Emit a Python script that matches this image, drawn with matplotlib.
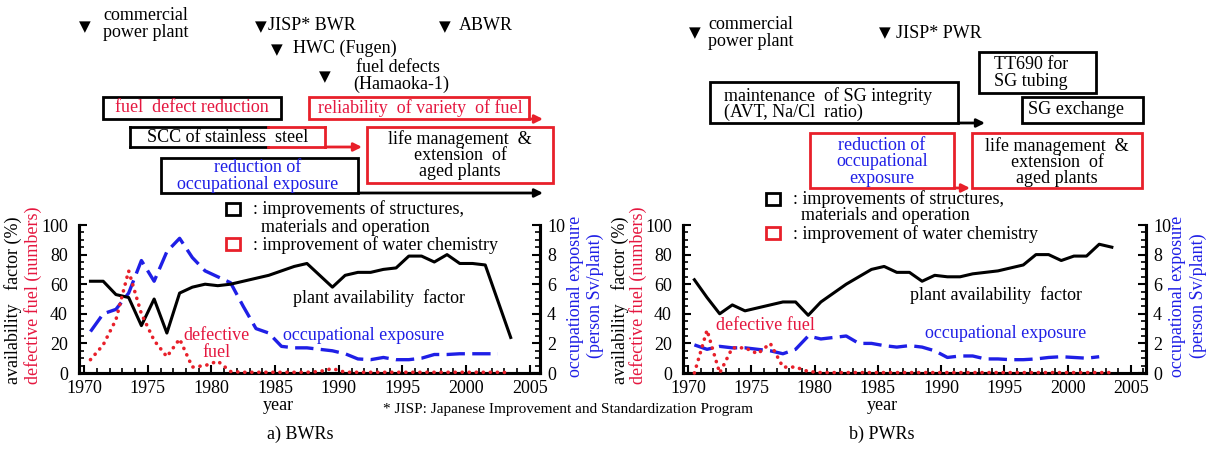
import numpy as np
import matplotlib
matplotlib.use("Agg")
import matplotlib.pyplot as plt
from matplotlib.patches import Rectangle, FancyArrowPatch
from matplotlib.lines import Line2D
from matplotlib.ticker import MultipleLocator

plt.rcParams['font.family'] = ['Liberation Serif', 'DejaVu Sans']

RED = '#e8202a'
RED_TXT = '#e5173f'
BLUE = '#1f1fe6'

# ---- data (fiscal years) ----
bwr_avail_years = list(range(1970, 2002)) + [2003]
bwr_avail = [62, 62, 53, 51, 32, 50, 27, 54, 58, 60,
             59, 60, 62, 64, 66, 69, 72, 74, 66, 58,
             66, 68, 68, 70, 71, 79, 79, 75, 80, 74,
             74, 73, 24]
bwr_fuel_years = list(range(1970, 2004))
bwr_fuel = [9, 19, 36, 69, 40, 22, 11, 23, 4, 5,
            8, 1, 0.5, 0.5, 0.5, 0.5, 0.5, 0.5, 1, 3,
            0.5, 0.5, 0.5, 0.5, 0.5, 0.5, 0.5, 0.5, 0.5, 0.5,
            0.5, 0.5, 0.5, 0.3]
bwr_expo_years = list(range(1970, 2003))
bwr_expo = [2.8, 4.0, 4.3, 5.4, 7.6, 6.2, 8.2, 9.1, 7.8, 6.9,
            6.5, 6.1, 4.5, 3.0, 2.7, 1.8, 1.7, 1.7, 1.6, 1.5,
            1.3, 0.95, 0.9, 1.05, 0.9, 0.9, 1.0, 1.25, 1.25, 1.3,
            1.3, 1.3, 1.3]

pwr_avail_years = list(range(1970, 2004))
pwr_avail = [63, 51, 40, 46, 42, 44, 46, 48, 48, 39,
             48, 54, 60, 65, 70, 72, 68, 68, 62, 66,
             65, 65, 67, 68, 69, 71, 73, 80, 80, 76,
             79, 79, 87, 85]
pwr_fuel_years = list(range(1970, 2004))
pwr_fuel = [0, 29, 0, 17, 17, 13, 20, 4, 4, 1,
            0.3, 0.3, 0.3, 0.3, 0.3, 0.3, 0.3, 0.3, 0.3, 0.3,
            0.3, 0.3, 0.3, 0.3, 0.3, 0.3, 0.3, 0.3, 0.3, 0.3,
            0.3, 0.3, 0.3, 0.3]
pwr_expo_years = list(range(1970, 2003))
pwr_expo = [1.9, 1.6, 1.8, 1.7, 1.7, 1.6, 1.5, 1.3, 1.6, 2.5,
            2.3, 2.4, 2.5, 2.0, 2.0, 1.85, 1.75, 1.85, 1.75, 1.5,
            1.05, 1.15, 1.15, 0.95, 0.95, 0.9, 0.9, 0.95, 1.05, 1.1,
            1.05, 1.0, 1.1]

year_ticks = [1970, 1975, 1980, 1985, 1990, 1995, 2000, 2005]

W, H = 1207, 449
fig = plt.figure(figsize=(W / 100, H / 100), dpi=100)


def P(x, y):
    return (x / W, 1 - y / H)


def txt(x, y, s, **kw):
    kw.setdefault('fontsize', 13)
    kw.setdefault('linespacing', 0.95)
    fig.text(*P(x, y), s, **kw)


def box(x0, y0, x1, y1, color):
    fig.add_artist(Rectangle(P(x0, y1), (x1 - x0) / W, (y1 - y0) / H,
                             transform=fig.transFigure, fill=False,
                             edgecolor=color, lw=2))


def seg(x0, y0, x1, y1, color):
    fig.add_artist(Line2D([x0 / W, x1 / W], [1 - y0 / H, 1 - y1 / H],
                          transform=fig.transFigure, color=color, lw=2))


def arrow(x0, y, x1, color):
    fig.add_artist(FancyArrowPatch(P(x0, y), P(x1, y), transform=fig.transFigure,
                                   arrowstyle='-|>', mutation_scale=12,
                                   color=color, lw=2, shrinkA=0, shrinkB=0))


def tri(x, y):
    fig.text(*P(x, y), '\u25bc', ha='center', va='center', fontsize=11,
             family=['DejaVu Sans'])


def panel(rect, xlim, avail_y, avail, fuel_y, fuel, expo_y, expo):
    ax = fig.add_axes(rect)
    ax2 = ax.twinx()
    off = 0.5
    ax.plot(np.array(avail_y) + off, avail, color='black', lw=2.2, zorder=3)
    ax.plot(np.array(fuel_y) + off, fuel, color=RED, lw=2.6,
            linestyle=(0, (0.05, 1.9)), dash_capstyle='round', zorder=4, clip_on=False)
    ax2.plot(np.array(expo_y) + off, expo, color=BLUE, lw=2.4,
             linestyle=(0, (5.5, 2.2)), zorder=3)
    ax.set_xlim(*xlim)
    ax.set_ylim(0, 100)
    ax2.set_ylim(0, 10)
    ax.set_xticks(year_ticks)
    ax.xaxis.set_minor_locator(MultipleLocator(1))
    ax.yaxis.set_major_locator(MultipleLocator(20))
    ax.yaxis.set_minor_locator(MultipleLocator(5))
    ax2.yaxis.set_major_locator(MultipleLocator(2))
    ax2.yaxis.set_minor_locator(MultipleLocator(0.5))
    for a in (ax, ax2):
        a.spines['top'].set_visible(False)
        for s in a.spines.values():
            s.set_linewidth(2.2)
        a.tick_params(which='major', direction='in', length=6, width=1.5,
                      labelsize=13, pad=5)
        a.tick_params(which='minor', direction='in', length=3.5, width=1.2)
    ax.tick_params(axis='y', pad=8)
    ax.set_zorder(ax2.get_zorder() + 1)
    ax.patch.set_visible(False)
    return ax, ax2


# ---- left panel: BWRs ----
panel([79 / W, 76 / H, 461 / W, 148 / H], (1969.6, 2005.8),
      bwr_avail_years, bwr_avail, bwr_fuel_years, bwr_fuel,
      bwr_expo_years, bwr_expo)
# ---- right panel: PWRs ----
panel([683 / W, 76 / H, 463 / W, 148 / H], (1969.6, 2006.2),
      pwr_avail_years, pwr_avail, pwr_fuel_years, pwr_fuel,
      pwr_expo_years, pwr_expo)

# axis labels
for xb, xr, xo1, xo2 in [(13, 33, 576, 595), (620, 638, 1178, 1198)]:
    txt(xb, 300, 'availability   factor (%)', rotation=90, ha='center', va='center')
    txt(xr, 295, 'defective fuel (numbers)', rotation=90, ha='center', va='center', color=RED_TXT)
    txt(xo1, 296, 'occupational exposure', rotation=90, ha='center', va='center', color=BLUE)
    txt(xo2, 296, '(person Sv/plant)', rotation=90, ha='center', va='center', color=BLUE)
txt(278, 405, 'year', ha='center', va='center')
txt(882, 405, 'year', ha='center', va='center')
txt(568, 410, '* JISP: Japanese Improvement and Standardization Program',
    ha='center', va='center', fontsize=11)
txt(300, 434, 'a) BWRs', ha='center', va='center')
txt(882, 434, 'b) PWRs', ha='center', va='center')

# in-plot labels
txt(379, 298, 'plant availability  factor', ha='center', va='center')
txt(216, 344, 'defective\nfuel', ha='center', va='center', color=RED_TXT)
txt(364, 335, 'occupational exposure', ha='center', va='center', color=BLUE)
txt(996, 295, 'plant availability  factor', ha='center', va='center')
txt(765, 325, 'defective fuel', ha='center', va='center', color=RED_TXT)
txt(1006, 333, 'occupational exposure', ha='center', va='center', color=BLUE)

# legends
for sx, ty1, ty2, ty3 in [(226, 209, 227, 245), (766, 199, 216, 234)]:
    box(sx, ty1 - 6, sx + 14, ty1 + 6, 'black')
    box(sx, ty3 - 7, sx + 14, ty3 + 5, RED)
    txt(sx + 27, ty1, ': improvements of structures,', va='center')
    txt(sx + 35, ty2, 'materials and operation', va='center')
    txt(sx + 27, ty3, ': improvement of water chemistry', va='center')

# ---- BWR milestones ----
tri(85, 27)
txt(103, 24, 'commercial\npower plant', va='center')
tri(261, 27)
txt(268, 25, 'JISP* BWR', va='center')
tri(445, 27)
txt(459, 25, 'ABWR', va='center')
tri(277, 50)
txt(293, 48, 'HWC (Fugen)', va='center')
tri(325, 77)
txt(356, 68, 'fuel defects', va='center')
txt(353, 84, '(Hamaoka-1)', va='center')

box(103, 97, 281, 119, 'black')
txt(192, 108, 'fuel  defect reduction', ha='center', va='center', color=RED_TXT)
box(309, 97, 529, 119, RED)
txt(420, 108, 'reliability  of variety  of fuel', ha='center', va='center', color=RED_TXT)
arrow(529, 119, 543, RED)

# SCC box: black on the left, red on the right
seg(130, 127, 268, 127, 'black')
seg(130, 147, 268, 147, 'black')
seg(130, 127, 130, 147, 'black')
seg(268, 127, 325, 127, RED)
seg(268, 147, 325, 147, RED)
seg(325, 127, 325, 147, RED)
txt(228, 137, 'SCC of stainless  steel', ha='center', va='center')
arrow(325, 147, 362, RED)

box(367, 127, 553, 183, RED)
txt(460, 155, 'life management  &\nextension  of\naged plants', ha='center', va='center')

box(161, 158, 358, 193, 'black')
txt(258, 176, 'reduction of\noccupational exposure', ha='center', va='center', color=BLUE)
arrow(358, 193, 543, 'black')

# ---- PWR milestones ----
tri(695, 33)
txt(708, 33, 'commercial\npower plant', va='center')
tri(885, 33)
txt(896, 33, 'JISP* PWR', va='center')

box(979, 52, 1096, 93, 'black')
txt(994, 73, 'TT690 for\nSG tubing', va='center')
box(1022, 97, 1143, 123, 'black')
txt(1028, 110, 'SG exchange', va='center')
box(710, 82, 958, 123, 'black')
txt(724, 104, 'maintenance  of SG integrity\n(AVT, Na/Cl  ratio)', va='center')
arrow(958, 123, 985, 'black')

box(810, 133, 954, 188, RED)
txt(882, 162, 'reduction of\noccupational\nexposure', ha='center', va='center', color=BLUE)
arrow(954, 188, 970, RED)
box(972, 133, 1142, 188, RED)
txt(1057, 162, 'life management  &\nextension  of\naged plants', ha='center', va='center')

fig.savefig('out.png', dpi=100)
